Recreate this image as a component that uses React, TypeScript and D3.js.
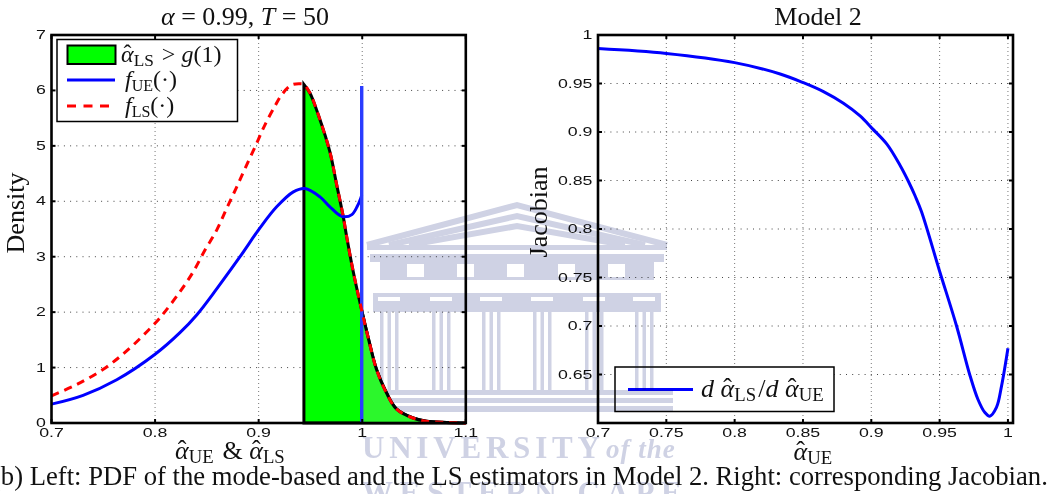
import React from 'react';
import * as d3 from 'd3';

// Left panel: densities
const ueX = [0.7, 0.7305, 0.763, 0.8, 0.824, 0.8402, 0.8595, 0.882, 0.9013, 0.9174, 0.9335, 0.9447, 0.9592, 0.9688, 0.978, 0.983, 0.99, 0.995, 0.9985, 0.9995];
const ueY = [0.34, 0.5, 0.78, 1.24, 1.63, 1.95, 2.42, 3.0, 3.52, 3.9, 4.17, 4.23, 4.08, 3.9, 3.75, 3.72, 3.76, 3.9, 4.05, 4.11];
const lsX = [0.7, 0.725, 0.75, 0.7726, 0.8, 0.8096, 0.8241, 0.8369, 0.8482, 0.8595, 0.8691, 0.8781, 0.8868, 0.8965, 0.9061, 0.9158, 0.9222, 0.9319, 0.9415, 0.9437, 0.9496, 0.9576, 0.9688, 0.9753, 0.9814, 0.985, 0.991, 0.9994, 1.0055, 1.0139, 1.0235, 1.0332, 1.049, 1.062, 1.0815, 1.1];
const lsY = [0.49, 0.7, 0.97, 1.3, 1.8, 2.01, 2.37, 2.73, 3.12, 3.48, 3.87, 4.23, 4.59, 4.98, 5.38, 5.72, 5.92, 6.1, 6.12, 6.11, 5.95, 5.56, 4.89, 4.3, 3.75, 3.36, 2.76, 2.04, 1.56, 0.96, 0.54, 0.25, 0.09, 0.03, 0.01, 0];
const spikeX = [0.9995, 0.9995];
const spikeY = [0, 6.08];
const shadeFrom = 0.9437;
const paleFrom = 0.9994;
const leftXTicks = [0.7, 0.8, 0.9, 1, 1.1];
const leftYTicks = [0, 1, 2, 3, 4, 5, 6, 7];

// Right panel: Jacobian
const jacX = [0.7, 0.75, 0.8, 0.8333, 0.8503, 0.865, 0.8796, 0.8918, 0.9004, 0.9114, 0.9211, 0.9272, 0.9321, 0.9367, 0.95, 0.9624, 0.972, 0.978, 0.983, 0.9867, 0.9916, 0.9953, 1];
const jacY = [0.986, 0.981, 0.9715, 0.9598, 0.9508, 0.9416, 0.9296, 0.9165, 0.904, 0.8875, 0.8655, 0.849, 0.834, 0.818, 0.7565, 0.7, 0.65, 0.6245, 0.611, 0.607, 0.616, 0.638, 0.677];
const rightXTicks = [0.7, 0.75, 0.8, 0.85, 0.9, 0.95, 1];
const rightYTicks = [0.65, 0.7, 0.75, 0.8, 0.85, 0.9, 0.95, 1];

const caption = '(b) Left: PDF of the mode-based and the LS estimators in Model 2. Right: corresponding Jacobian.';

const serif = '"Liberation Serif", serif';
const sans = '"Liberation Sans", sans-serif';
const ink = '#111';

const top = 35;
const bottom = 423;
const xLeft = d3.scaleLinear().domain([0.7, 1.1]).range([51.5, 465.8]);
const yLeft = d3.scaleLinear().domain([0, 7]).range([bottom, top]);
const xRight = d3.scaleLinear().domain([0.7, 1.0037]).range([598, 1013]);
const yRight = d3.scaleLinear().domain([0.6, 1]).range([bottom, top]);

const zip = (xs: number[], ys: number[]) => xs.map((x, i) => [x, ys[i]] as [number, number]);

const leftLine = d3.line<[number, number]>().x(d => xLeft(d[0])).y(d => yLeft(d[1])).curve(d3.curveCatmullRom.alpha(0.5));
const rightLine = d3.line<[number, number]>().x(d => xRight(d[0])).y(d => yRight(d[1])).curve(d3.curveCatmullRom.alpha(0.5));
const shadeArea = d3.area<[number, number]>().x(d => xLeft(d[0])).y0(yLeft(0)).y1(d => yLeft(d[1])).curve(d3.curveCatmullRom.alpha(0.5));

const lsData = zip(lsX, lsY);

const TickText = ({ x, y, label, anchor }: { x: number; y: number; label: string; anchor: string }) => (
  <text
    transform={`translate(${x},${y}) scale(1.42,1)`}
    textAnchor={anchor}
    fontFamily={sans}
    fontSize={12.5}
    fill={ink}
  >
    {label}
  </text>
);

// alpha with a hat placed by hand, combining marks land in the wrong spot
const Hat = ({ sub, size }: { sub: string; size: number }) => (
  <>
    <tspan fontStyle="italic">α</tspan>
    <tspan dx={-0.42 * size} dy={-size * 0.03}>ˆ</tspan>
    <tspan fontSize={size * 0.72} dx={0.09 * size} dy={size * 0.19}>{sub}</tspan>
    <tspan fontSize={size} dy={-size * 0.16}>{'\u200a'}</tspan>
  </>
);

const Grid = ({ x, y, xTicks, yTicks }: any) => {
  const [x0, x1] = x.range();
  return (
    <g>
      {xTicks.filter((t: number) => x(t) > x0 + 1 && x(t) < x1 - 1).map((t: number) => (
        <line key={t} x1={x(t)} x2={x(t)} y1={top} y2={bottom} stroke="#777" strokeWidth={1} strokeDasharray="1 3" />
      ))}
      {yTicks.filter((t: number) => y(t) > top + 1 && y(t) < bottom - 1).map((t: number) => (
        <line key={t} x1={x0} x2={x1} y1={y(t)} y2={y(t)} stroke="#444" strokeWidth={1} strokeDasharray="1 5.2" />
      ))}
    </g>
  );
};

const Axes = ({ x, y, xTicks, yTicks }: any) => {
  const [x0, x1] = x.range();
  return (
    <g>
      <rect x={x0} y={top} width={x1 - x0} height={bottom - top} fill="none" stroke="#000" strokeWidth={2.6} />
      {xTicks.map((t: number) => (
        <g key={t}>
          <line x1={x(t)} x2={x(t)} y1={top} y2={top + 4} stroke="#000" strokeWidth={2} />
          <line x1={x(t)} x2={x(t)} y1={bottom} y2={bottom - 4} stroke="#000" strokeWidth={2} />
          <TickText x={x(t)} y={437} label={String(t)} anchor="middle" />
        </g>
      ))}
      {yTicks.map((t: number) => (
        <g key={t}>
          <line x1={x0} x2={x0 + 4} y1={y(t)} y2={y(t)} stroke="#000" strokeWidth={2} />
          <line x1={x1} x2={x1 - 4} y1={y(t)} y2={y(t)} stroke="#000" strokeWidth={2} />
          <TickText x={x0 - 5.5} y={y(t) + 4} label={String(t)} anchor="end" />
        </g>
      ))}
    </g>
  );
};

// University crest sitting behind the figure in the source scan
const crestColor = '#cfd2e4';
const crestColumns = [380, 432, 482, 533, 585, 635];
const crestWindows = [407, 457, 507, 558, 608];
const crestRoofs = [205, 216, 226];
const crestSteps = [[363, 390, 310, 5], [363, 398, 310, 5], [363, 406, 310, 6]];
const Crest = () => (
  <g style={{ mixBlendMode: 'multiply' }}>
    {crestRoofs.map(r => (
      <path key={r} d={`M${367 + (r - 205) * 2} 245 L517 ${r} L${667 - (r - 205) * 2} 245`} fill="none" stroke={crestColor} strokeWidth={6} />
    ))}
    <g fill={crestColor}>
      <rect x={367} y={245} width={300} height={5} />
      <rect x={370} y={254} width={294} height={8} />
      <rect x={380} y={262} width={274} height={18} />
      <rect x={373} y={293} width={288} height={19} />
      {crestColumns.map(c => (
        <g key={c}>
          <rect x={c} y={312} width={3.5} height={78} />
          <rect x={c + 7.5} y={312} width={3.5} height={78} />
          <rect x={c + 15} y={312} width={3.5} height={78} />
        </g>
      ))}
      {crestSteps.map(s => <rect key={s[1]} x={s[0]} y={s[1]} width={s[2]} height={s[3]} />)}
    </g>
    <g fill="#fff">
      {crestWindows.map(w => <rect key={w} x={w} y={264} width={17} height={13} />)}
      {crestColumns.map(c => <rect key={c} x={c - 2} y={297} width={22} height={4} />)}
    </g>
    <g fill={crestColor}>
      <text x={362} y={458} fontFamily={serif} fontWeight="bold" fontSize={31} letterSpacing={4.8}>UNIVERSITY</text>
      <text x={606} y={458} fontFamily={serif} fontStyle="italic" fontWeight="bold" fontSize={27} letterSpacing={1}>of the</text>
      <text x={362} y={503} fontFamily={serif} fontWeight="bold" fontSize={31} letterSpacing={6.6}>WESTERN CAPE</text>
    </g>
  </g>
);

export default function App() {
  const shaded = lsData.filter(d => d[0] >= shadeFrom);
  const pale = lsData.filter(d => d[0] >= paleFrom);
  return (
    <svg width={1053} height={494} style={{ position: 'absolute', left: 0, top: 0, background: '#fff' }}>
      <Grid x={xLeft} y={yLeft} xTicks={leftXTicks} yTicks={leftYTicks} />

      <text x={245} y={25} textAnchor="middle" fontFamily={serif} fontSize={26} fill={ink}>
        <tspan fontStyle="italic">α</tspan> = 0.99, <tspan fontStyle="italic">T</tspan> = 50
      </text>
      <text transform="translate(24,213) rotate(-90)" textAnchor="middle" fontFamily={serif} fontSize={26} fill={ink}>Density</text>
      <text x={231} y={459} textAnchor="middle" fontFamily={serif} fontSize={26} fill={ink}>
        <Hat sub="UE" size={26} /> &amp; <Hat sub="LS" size={26} />
      </text>

      <Grid x={xRight} y={yRight} xTicks={rightXTicks} yTicks={rightYTicks} />
      <path d={rightLine(zip(jacX, jacY)) ?? ''} fill="none" stroke="#0000ff" strokeWidth={3} />
      <Axes x={xRight} y={yRight} xTicks={rightXTicks} yTicks={rightYTicks} />

      <g>
        <rect x={615} y={367} width={219} height={44.5} fill="#fff" stroke="#000" strokeWidth={1.5} />
        <line x1={628} x2={693} y1={389.5} y2={389.5} stroke="#0000ff" strokeWidth={3} />
        <text x={701} y={397} fontFamily={serif} fontSize={26} fill={ink}>
          <tspan fontStyle="italic">d</tspan> <Hat sub="LS" size={26} />/<tspan fontStyle="italic">d</tspan> <Hat sub="UE" size={26} />
        </text>
      </g>

      <text x={818} y={25} textAnchor="middle" fontFamily={serif} fontSize={26} fill={ink}>Model 2</text>
      <text transform="translate(547,212) rotate(-90)" textAnchor="middle" fontFamily={serif} fontSize={26} fill={ink}>Jacobian</text>
      <text x={814} y={460} textAnchor="middle" fontFamily={serif} fontSize={26} fill={ink}>
        <Hat sub="UE" size={26} />
      </text>

      <Crest />

      {/* left panel goes over the crest so the steps don't muddy the green */}
      <path d={shadeArea(shaded) ?? ''} fill="#00ff00" stroke="#000" strokeWidth={3} />
      <path d={shadeArea(pale) ?? ''} fill="#2cf72c" stroke="none" />
      <path d={leftLine(pale) ?? ''} fill="none" stroke="#000" strokeWidth={3} />
      <path d={leftLine(zip(ueX, ueY)) ?? ''} fill="none" stroke="#0000ff" strokeWidth={3} />
      <path d={leftLine(zip(spikeX, spikeY)) ?? ''} fill="none" stroke="#2a3cff" strokeWidth={3.4} />
      <path d={leftLine(lsData) ?? ''} fill="none" stroke="#ff0000" strokeWidth={3} strokeDasharray="8 6" />
      <Axes x={xLeft} y={yLeft} xTicks={leftXTicks} yTicks={leftYTicks} />

      <g>
        <rect x={57} y={39.5} width={180.5} height={82} fill="#fff" stroke="#000" strokeWidth={1.5} />
        <rect x={67.5} y={45.5} width={48} height={18.5} fill="#00ff00" stroke="#000" strokeWidth={2} />
        <line x1={67} x2={115} y1={80} y2={80} stroke="#0000ff" strokeWidth={3} />
        <line x1={67} x2={115} y1={106} y2={106} stroke="#ff0000" strokeWidth={3} strokeDasharray="9 7.5" />
        <text x={121} y={62} fontFamily={serif} fontSize={24} fill={ink}>
          <Hat sub="LS" size={24} /> &gt; <tspan fontStyle="italic">g</tspan>(1)
        </text>
        <text x={125} y={87} fontFamily={serif} fontSize={24} fill={ink}>
          <tspan fontStyle="italic">f</tspan>
          <tspan fontSize={16} dy={4}>UE</tspan>
          <tspan dy={-4}>(·)</tspan>
        </text>
        <text x={125} y={113} fontFamily={serif} fontSize={24} fill={ink}>
          <tspan fontStyle="italic">f</tspan>
          <tspan fontSize={16} dy={4}>LS</tspan>
          <tspan dy={-4}>(·)</tspan>
        </text>
      </g>

      <text x={-8} y={485} fontFamily={serif} fontSize={26.65} fill={ink}>{caption}</text>
    </svg>
  );
}
